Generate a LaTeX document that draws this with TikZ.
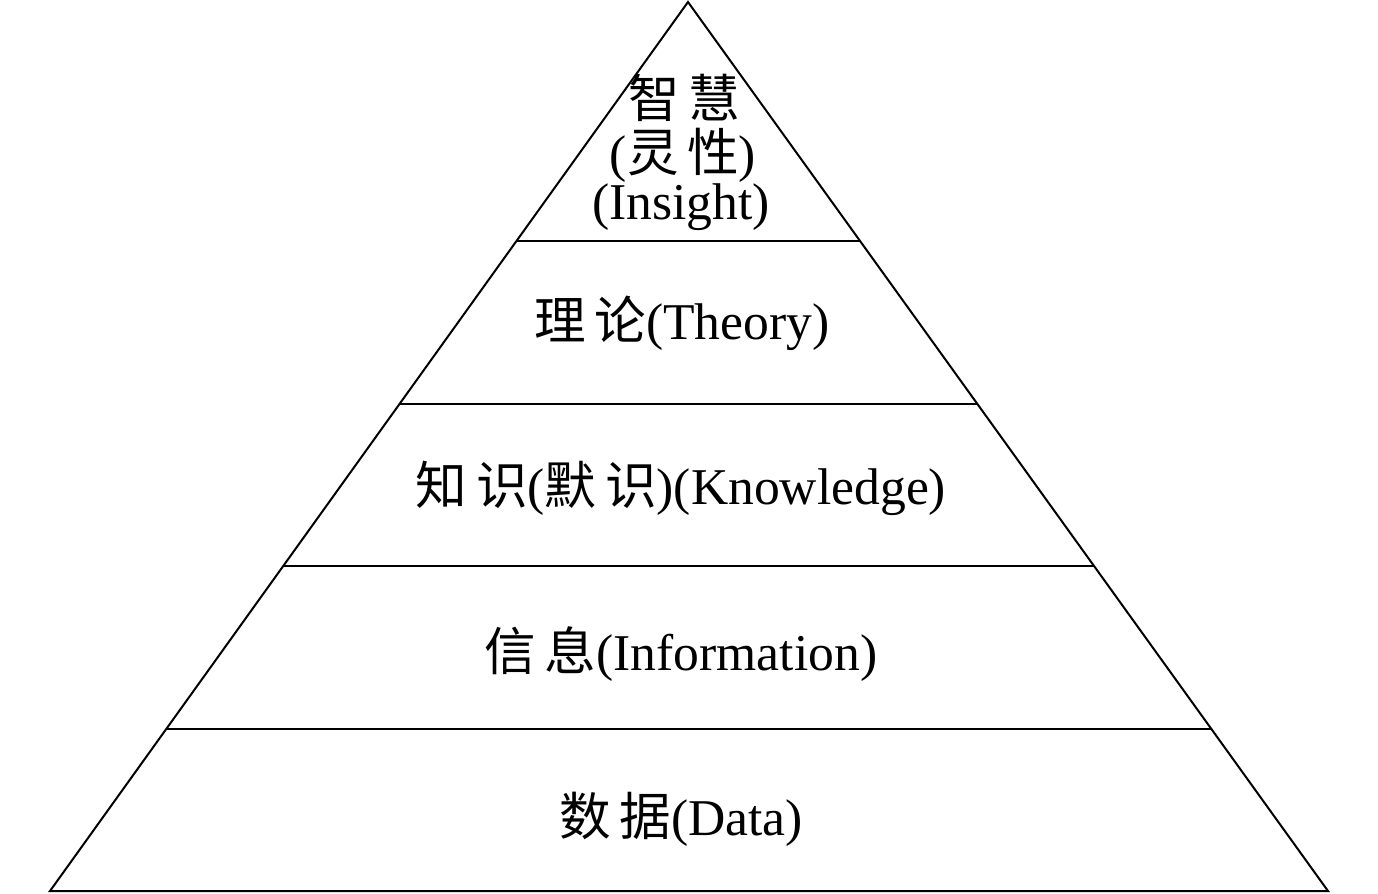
\documentclass[tikz,border=0pt]{standalone}
\usepackage{fontspec}
\setmainfont{Liberation Serif}
\newfontfamily\cjk{Noto Sans CJK SC}
\begin{document}
\begin{tikzpicture}[x=0.5pt,y=-0.5pt,
  lvl/.style={font=\fontsize{25.8}{30}\selectfont, inner sep=0pt, anchor=center},
  edge/.style={line width=1pt, line join=miter}]
\useasboundingbox (0,0) rectangle (1378,894);
\coordinate (apex) at (688,2);
\coordinate (bl) at (50,891);
\coordinate (br) at (1328,891);
\coordinate (l1) at (516.5,241); \coordinate (r1) at (860,241);
\coordinate (l2) at (399.5,404); \coordinate (r2) at (977,404);
\coordinate (l3) at (283,566);   \coordinate (r3) at (1094,566);
\coordinate (l4) at (166,729);   \coordinate (r4) at (1211,729);
\draw[edge] (apex) -- (bl) -- (br) -- cycle;
\draw[edge] (l1) -- (r1);
\draw[edge] (l2) -- (r2);
\draw[edge] (l3) -- (r3);
\draw[edge] (l4) -- (r4);
\node[lvl] (t1) at (684,98) {{\cjk 智\,慧}};
\node[lvl] (t2) at (683,155) {({\cjk 灵\,性})};
\node[lvl] (t3) at (681,207) {(Insight)};
\node[lvl] (t4) at (682,323) {{\cjk 理\,论}(Theory)};
\node[lvl] (t5) at (681,488) {{\cjk 知\,识}({\cjk 默\,识})(Knowledge)};
\node[lvl] (t6) at (681,654) {{\cjk 信\,息}(Information)};
\node[lvl] (t7) at (681,819) {{\cjk 数\,据}(Data)};
\end{tikzpicture}
\end{document}
